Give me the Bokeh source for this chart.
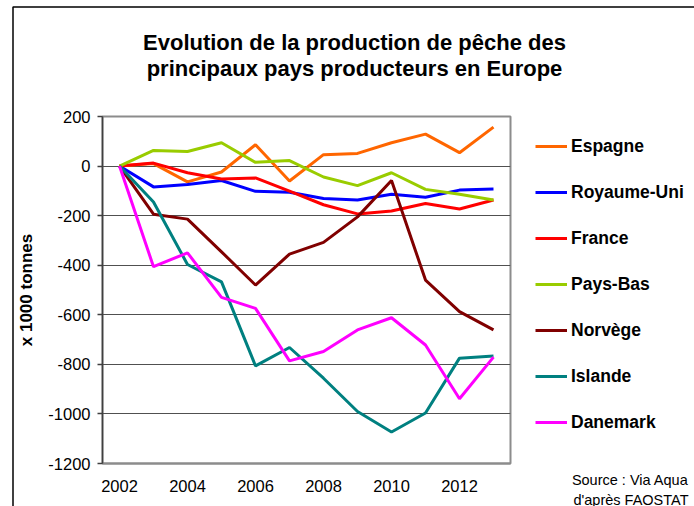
from bokeh.plotting import figure
from bokeh.layouts import column
from bokeh.models import Range1d, FixedTicker, Legend, LegendItem, Label
from bokeh.embed import file_html
from bokeh.resources import INLINE

years = [2002, 2003, 2004, 2005, 2006, 2007, 2008, 2009, 2010, 2011, 2012, 2013]
espagne = [0, 10, -64, -24, 86, -60, 46, 51, 94, 129, 54, 157]
royaume_uni = [0, -84, -74, -58, -102, -106, -131, -137, -114, -126, -97, -93]
france = [0, 12, -27, -52, -48, -101, -156, -193, -181, -151, -173, -137]
pays_bas = [0, 63, 59, 94, 15, 22, -44, -79, -27, -94, -114, -137]
norvege = [0, -194, -214, -346, -480, -355, -308, -205, -58, -460, -587, -661]
islande = [0, -145, -397, -467, -806, -732, -856, -990, -1073, -996, -775, -766]
danemark = [0, -406, -350, -530, -574, -786, -748, -661, -612, -722, -939, -771]

series_names = ["Espagne", "Royaume-Uni", "France", "Pays-Bas", "Norvège", "Islande", "Danemark"]
series_values = [espagne, royaume_uni, france, pays_bas, norvege, islande, danemark]
series_colors = ["#FF6600", "#0000FF", "#FF0000", "#99CC00", "#800000", "#008080", "#FF00FF"]

x_ticks = [2002, 2004, 2006, 2008, 2010, 2012]
y_ticks = [-1200, -1000, -800, -600, -400, -200, 0, 200]

title_lines = ["Evolution de la production de pêche des", "principaux pays producteurs en Europe"]
source_lines = ["Source : Via Aqua", "d'après FAOSTAT"]
y_label = "x 1000 tonnes"

FONT = "Liberation Sans"
W, H = 694, 506

# ---- background sheet: chart border, title, legend and source note (pixel coordinates) ----
base = figure(width=W, height=H, x_range=Range1d(0, W), y_range=Range1d(H, 0),
              min_border=0, x_axis_location=None, y_axis_location=None,
              toolbar_location=None, output_backend="svg")
base.outline_line_color = None
base.xgrid.visible = False
base.ygrid.visible = False
base.line([12.5, 12.5, W], [H, 6.5, 6.5], line_color="black", line_width=1.5)
for txt, yy in zip(title_lines, [41.7, 68]):
    base.add_layout(Label(x=354, y=yy, text=txt, text_align="center",
                          text_baseline="alphabetic", text_font=FONT,
                          text_font_style="bold", text_font_size="22px",
                          text_color="black"))
for txt, yy in zip(source_lines, [479, 499]):
    base.add_layout(Label(x=688, y=yy, text=txt, text_align="right",
                          text_baseline="alphabetic", text_font=FONT,
                          text_font_size="14.5px", text_color="black"))

# legend keys: same series and line styles as in the chart (they fall outside this sheet's view)
items = []
for name, vals, col in zip(series_names, series_values, series_colors):
    key = base.line(years, vals, line_color=col, line_width=3)
    items.append(LegendItem(label=name, renderers=[key]))
legend = Legend(items=items, location=(535, 64), orientation="vertical",
                padding=0, margin=0, spacing=6,
                glyph_width=32, glyph_height=40, label_height=40,
                label_standoff=4,
                label_text_font=FONT, label_text_font_style="bold",
                label_text_font_size="17.5px", label_text_color="black",
                border_line_alpha=0, background_fill_alpha=0)
base.add_layout(legend, "center")

# ---- main chart, laid over the sheet ----
p = figure(width=W, height=H, frame_width=408, frame_height=347,
           x_range=Range1d(2001.5, 2013.5), y_range=Range1d(-1200, 200),
           output_backend="svg", toolbar_location=None,
           min_border_left=102, min_border_right=184,
           min_border_top=116, min_border_bottom=43,
           margin=(-H, 0, 0, 0))
p.border_fill_alpha = 0
p.background_fill_color = "white"
p.outline_line_color = "#8c8c8c"
p.outline_line_width = 2

for f in (base, p):
    if hasattr(type(f), "frame_align"):
        f.frame_align = False

p.xaxis.ticker = FixedTicker(ticks=x_ticks)
p.xaxis.major_label_overrides = {t: str(t) for t in x_ticks}
p.xaxis.major_tick_out = 0
p.xaxis.major_tick_in = 0
p.xaxis.minor_tick_out = 0
p.xaxis.minor_tick_in = 0
p.xaxis.axis_line_color = "#8c8c8c"
p.xaxis.axis_line_width = 2
p.xaxis.major_label_standoff = 16
p.xaxis.major_label_text_font = FONT
p.xaxis.major_label_text_font_size = "16.5px"
p.xaxis.major_label_text_color = "black"

p.yaxis.ticker = FixedTicker(ticks=y_ticks)
p.yaxis.major_label_overrides = {t: str(t) for t in y_ticks}
p.yaxis.major_tick_out = 5
p.yaxis.major_tick_in = 0
p.yaxis.minor_tick_out = 0
p.yaxis.minor_tick_in = 0
p.yaxis.axis_line_color = "#404040"
p.yaxis.axis_line_width = 1.5
p.yaxis.major_tick_line_color = "#404040"
p.yaxis.major_tick_line_width = 1.5
p.yaxis.major_label_standoff = 7
p.yaxis.major_label_text_font = FONT
p.yaxis.major_label_text_font_size = "16.5px"
p.yaxis.major_label_text_color = "black"
p.yaxis.axis_label = y_label
p.yaxis.axis_label_text_font = FONT
p.yaxis.axis_label_text_font_style = "bold"
p.yaxis.axis_label_text_font_size = "17px"
p.yaxis.axis_label_text_color = "black"
p.yaxis.axis_label_standoff = 9

p.xgrid.visible = False
p.ygrid.ticker = FixedTicker(ticks=y_ticks)
p.ygrid.grid_line_color = "#505050"
p.ygrid.grid_line_width = 1.2

for name, vals, col in zip(series_names, series_values, series_colors):
    p.line(years, vals, line_color=col, line_width=3, name=name)

layout = column(base, p)
open("out.html", "w").write(file_html(layout, INLINE))
